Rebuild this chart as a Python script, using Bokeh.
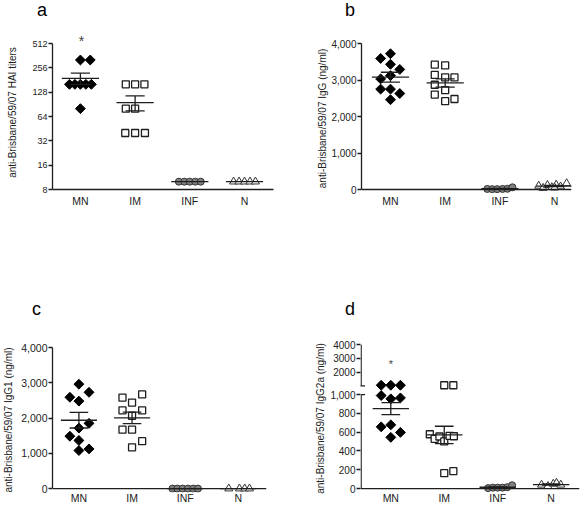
import numpy as np
from bokeh.plotting import figure
from bokeh.layouts import row, column
from bokeh.models import Range1d, FixedTicker, NumeralTickFormatter, Label, Arrow, Div
from bokeh.embed import file_html
from bokeh.resources import INLINE

categories = ["MN", "IM", "INF", "N"]

# ---- panel a : HAI titers (log2 axis)
a_mn = [320, 320, 160, 160, 160, 160, 160, 80]
a_im = [160, 160, 160, 80, 80, 40, 40, 40]
a_inf = [10, 10, 10, 10, 10]
a_n = [10, 10, 10, 10, 10]
a_ticks = [8, 16, 32, 64, 128, 256, 512]
a_mn_dx = [0.0, 0.18, -0.2, -0.1, 0.0, 0.1, 0.2, 0.0]
a_im_dx = [-0.17, 0.0, 0.17, -0.17, 0.0, -0.18, 0.0, 0.18]
a_inf_dx = [-0.2, -0.1, 0.0, 0.1, 0.2]
a_n_dx = [-0.2, -0.1, 0.0, 0.1, 0.2]

# ---- panel b : IgG
b_mn = [3720, 3590, 3430, 3290, 3120, 3030, 2750, 2750, 2630, 2460]
b_mn_dx = [0, -0.18, 0, 0.17, 0, -0.18, -0.18, 0, 0.17, 0]
b_im = [3420, 3400, 3140, 3070, 3070, 2870, 2720, 2600, 2420, 2480]
b_im_dx = [-0.19, 0, -0.19, 0, 0.17, -0.19, 0, -0.19, 0, 0.17]
b_inf = [15, 10, 10, 15, 20, 60]
b_inf_dx = [-0.23, -0.14, -0.05, 0.05, 0.14, 0.23]
b_n = [100, 40, 120, 60, 130, 80, 170, 50]
b_n_dx = [-0.29, -0.21, -0.13, -0.05, 0.03, 0.11, 0.22, 0.0]
b_ticks = [0, 1000, 2000, 3000, 4000]

# ---- panel c : IgG1
c_mn = [2960, 2730, 2590, 2480, 1850, 1715, 1485, 1365, 1125, 1080]
c_mn_dx = [0, 0.19, -0.17, 0, 0.19, 0, -0.17, 0, 0.19, 0]
c_im = [2670, 2580, 2440, 2220, 2220, 2065, 1670, 1670, 1345, 1170]
c_im_dx = [0.19, -0.18, 0, -0.18, 0.19, 0, -0.18, 0, 0.19, 0]
c_inf = [0, 0, 0, 0, 0, 0]
c_inf_dx = [-0.24, -0.15, -0.05, 0.05, 0.15, 0.24]
c_n = [0, 0, 0, 0]
c_n_dx = [-0.18, 0.02, 0.12, 0.21]
c_ticks = [0, 1000, 2000, 3000, 4000]

# ---- panel d : IgG2a (broken axis)
d_mn = [1040, 1040, 1040, 990, 955, 965, 657, 678, 598, 545]
d_mn_dx = [-0.18, 0, 0.18, -0.18, 0, 0.18, -0.18, 0, 0.18, 0]
d_im = [1040, 1040, 578, 530, 554, 502, 561, 557, 164, 185]
d_im_dx = [0, 0.17, -0.27, -0.18, -0.09, 0, 0.1, 0.18, 0, 0.17]
d_inf = [5, 10, 10, 10, 15, 35]
d_inf_dx = [-0.18, -0.09, 0, 0.09, 0.18, 0.27]
d_n = [40, 25, 50, 60, 40]
d_n_dx = [-0.18, -0.06, 0.04, 0.1, 0.18]
d_ticks = [0, 200, 400, 600, 800, 1000, 2000, 3000, 4000]
d_tick_labels = ["0", "200", "400", "600", "800", "1,000", "2000", "3000", "4000"]
d_break = 1000
D_GAP = 94.0
D_K = 0.1465


def brk(v):
    v = np.asarray(v, dtype=float)
    return np.where(v <= d_break, v, d_break + D_GAP + (v - d_break) * D_K)


FONT = "Liberation Sans"
AX = "#1e1e1e"
STYLES = [
    dict(marker="square", angle=np.pi / 4, size=7, fill_color="black", line_color="black", line_width=1),
    dict(marker="square", angle=0, size=7, fill_color="white", line_color="#1e1e1e", line_width=1.3),
    dict(marker="circle", angle=0, size=7, fill_color="#808080", line_color="#333333", line_width=1),
    dict(marker="triangle", angle=0, size=8, fill_color="white", line_color="#333333", line_width=1),
]

R = 250        # y where the second row starts
DT = 22        # height of the letter strip above the top row
DB = 70        # height of the letter strip above the bottom row
EXT = 4        # pixels of frame below the zero line
PX = 54.67     # pixels per category unit


def make_fig(width, height, frame, canvas, xr, yr, y_type="linear", xfont="10.5px", xstand=5):
    L, Rt, T, B = frame
    cx0, cy0, cx1, cy1 = canvas
    p = figure(width=width, height=height, x_range=xr, y_range=yr, y_axis_type=y_type,
               output_backend="svg", toolbar_location=None,
               min_border_left=L - cx0, min_border_right=max(cx1 - Rt, 0),
               min_border_top=T - cy0, min_border_bottom=max(cy1 - B, 0))
    p.grid.visible = False
    p.outline_line_color = None
    p.background_fill_color = "white"
    p.border_fill_color = "white"
    xa = p.xaxis[0]
    xa.ticker = FixedTicker(ticks=[1, 2, 3, 4])
    xa.major_label_overrides = {i + 1: c for i, c in enumerate(categories)}
    xa.major_tick_line_color = None
    xa.major_tick_out = 0
    xa.minor_tick_line_color = None
    xa.axis_line_color = AX
    xa.axis_line_width = 1.3
    xa.major_label_text_font = FONT
    xa.major_label_text_font_size = xfont
    xa.major_label_text_color = "#222222"
    xa.major_label_standoff = xstand
    ya = p.yaxis[0]
    ya.minor_tick_line_color = None
    ya.axis_line_color = AX
    ya.axis_line_width = 1.3
    ya.major_tick_line_color = AX
    ya.major_tick_line_width = 1.3
    ya.major_tick_out = 4
    ya.major_tick_in = 0
    ya.major_label_standoff = 1
    ya.major_label_text_font = FONT
    ya.major_label_text_font_size = "10px"
    ya.major_label_text_color = "#222222"
    ya.axis_label_text_font = FONT
    ya.axis_label_text_font_size = "10px"
    ya.axis_label_text_font_style = "normal"
    ya.axis_label_text_color = "#222222"
    return p


def zero_line(p, xr):
    p.xaxis.axis_line_color = None
    p.add_layout(Arrow(x_start=xr.start, y_start=0, x_end=xr.end, y_end=0, end=None,
                       line_color=AX, line_width=1.3))


def draw_groups(p, groups, tf=lambda v: np.asarray(v, dtype=float)):
    for i, (vals, dx) in enumerate(groups):
        st = STYLES[i]
        xs = (i + 1) + np.asarray(dx, dtype=float)
        p.scatter(xs, tf(vals), **st)
    for i, (vals, dx) in enumerate(groups):
        v = np.asarray(vals, dtype=float)
        m = v.mean()
        sem = v.std(ddof=1) / np.sqrt(len(v))
        c = i + 1
        p.segment(x0=[c - 0.34], x1=[c + 0.34], y0=tf([m]), y1=tf([m]), line_color=AX, line_width=1.3)
        if sem > 0:
            p.segment(x0=[c], x1=[c], y0=tf([m - sem]), y1=tf([m + sem]), line_color=AX, line_width=1.3)
            p.segment(x0=[c - 0.175, c - 0.175], x1=[c + 0.175, c + 0.175],
                      y0=tf([m - sem, m + sem]), y1=tf([m - sem, m + sem]), line_color=AX, line_width=1.3)


def letter_div(t, height, left, top):
    html = ('<div style="padding-left:%dpx; padding-top:%dpx; font-family:\'Liberation Sans\'; '
            'font-size:18px; line-height:21px; color:black;">%s</div>' % (left, top, t))
    return Div(text=html, width=292, height=height, margin=0)


# ---------------- panel a
a_top = 512 * 2 ** (8 / 24.33)
pa = make_fig(292, R - DT, (52, 273, 35, 189), (0, DT, 292, R),
              Range1d(0.49, 4.53), Range1d(8, a_top), y_type="log")
pa.yaxis.ticker = FixedTicker(ticks=a_ticks)
pa.yaxis.formatter = NumeralTickFormatter(format="0")
pa.yaxis.bounds = (8, 512)
pa.yaxis.major_label_text_font_size = "9px"
pa.yaxis.axis_label = "anti-Brisbane/59/07 HAI titers"
pa.yaxis.axis_label_standoff = 11
draw_groups(pa, [(a_mn, a_mn_dx), (a_im, a_im_dx), (a_inf, a_inf_dx), (a_n, a_n_dx)])
pa.add_layout(Label(x=1.02, y=2 ** (9 + 3 / 24.33), text="*", text_font=FONT, text_font_size="14px",
                    text_align="center", text_baseline="middle"))

# ---------------- panel b
b_per_px = 4000 / 146.0
b_xr = Range1d(0.47, 4.31)
pb = make_fig(292, R - DT, (361, 571, 43, 189 + EXT), (292, DT, 584, R),
              b_xr, Range1d(-EXT * b_per_px, 4000), xstand=1)
pb.yaxis.ticker = FixedTicker(ticks=b_ticks)
pb.yaxis.formatter = NumeralTickFormatter(format="0,0")
pb.yaxis.bounds = (0, 4000)
pb.yaxis.axis_label = "anti-Brisbane/59/07 IgG (ng/ml)"
pb.yaxis.axis_label_standoff = 0
zero_line(pb, b_xr)
draw_groups(pb, [(b_mn, b_mn_dx), (b_im, b_im_dx), (b_inf, b_inf_dx), (b_n, b_n_dx)])

# ---------------- panel c
c_per_px = 4000 / 145.0
c_xr = Range1d(0.503, 4.53)
pc = make_fig(292, 506 - R - DB, (47, 266, 347, 492 + EXT), (0, R + DB, 292, 506),
              c_xr, Range1d(-EXT * c_per_px, 4000), xfont="10.5px", xstand=-1)
pc.yaxis.ticker = FixedTicker(ticks=c_ticks)
pc.yaxis.formatter = NumeralTickFormatter(format="0,0")
pc.yaxis.bounds = (0, 4000)
pc.yaxis.major_label_text_font_size = "10.5px"
pc.yaxis.axis_label = "anti-Brisbane/59/07 IgG1 (ng/ml)"
pc.yaxis.axis_label_standoff = 4
zero_line(pc, c_xr)
draw_groups(pc, [(c_mn, c_mn_dx), (c_im, c_im_dx), (c_inf, c_inf_dx), (c_n, c_n_dx)])

# ---------------- panel d
d_per_px = 1000 / 95.6
d_top = float(brk(4000))
d_xr = Range1d(0.433, 4.0 + (584 - 555) / PX)
pd = make_fig(292, 506 - R - DB, (360, 579, 344, 490 + EXT), (292, R + DB, 584, 506),
              d_xr, Range1d(-EXT * d_per_px, d_top), xfont="10.5px", xstand=-1)
d_tick_pos = [round(float(t), 3) for t in brk(d_ticks)]
pd.yaxis.ticker = FixedTicker(ticks=d_tick_pos)
pd.yaxis.major_label_overrides = {t: s for t, s in zip(d_tick_pos, d_tick_labels)}
pd.yaxis.bounds = (0, d_top)
pd.yaxis.axis_line_color = None
pd.yaxis.axis_label = "anti-Brisbane/59/07 IgG2a (ng/ml)"
pd.yaxis.axis_label_standoff = 1
zero_line(pd, d_xr)
draw_groups(pd, [(d_mn, d_mn_dx), (d_im, d_im_dx), (d_inf, d_inf_dx), (d_n, d_n_dx)], tf=brk)
x0 = d_xr.start + 0.65 / PX
up0 = float(brk(d_break + 0.001))
for ys, ye in [(0, d_break), (up0, d_top)]:
    pd.add_layout(Arrow(x_start=x0, y_start=ys, x_end=x0, y_end=ye, end=None,
                        line_color=AX, line_width=1.3))
pd.add_layout(Arrow(x_start=x0 - 4 / PX, y_start=up0, x_end=x0 + 4 / PX, y_end=up0, end=None,
                    line_color=AX, line_width=1.3))
pd.add_layout(Arrow(x_start=x0, y_start=d_break, x_end=x0 + 4 / PX, y_end=d_break, end=None,
                    line_color=AX, line_width=1.3))
pd.add_layout(Label(x=1.0, y=float(brk(2550)), text="*", text_font=FONT, text_font_size="11px",
                    text_align="center", text_baseline="middle"))

top_row = row(column(letter_div("a", DT, 37, 0), pa), column(letter_div("b", DT, 53, 0), pb))
bottom_row = row(column(letter_div("c", DB, 32, 49), pc), column(letter_div("d", DB, 53, 49), pd))
layout = column(top_row, bottom_row)
open("out.html", "w").write(file_html(layout, INLINE))
